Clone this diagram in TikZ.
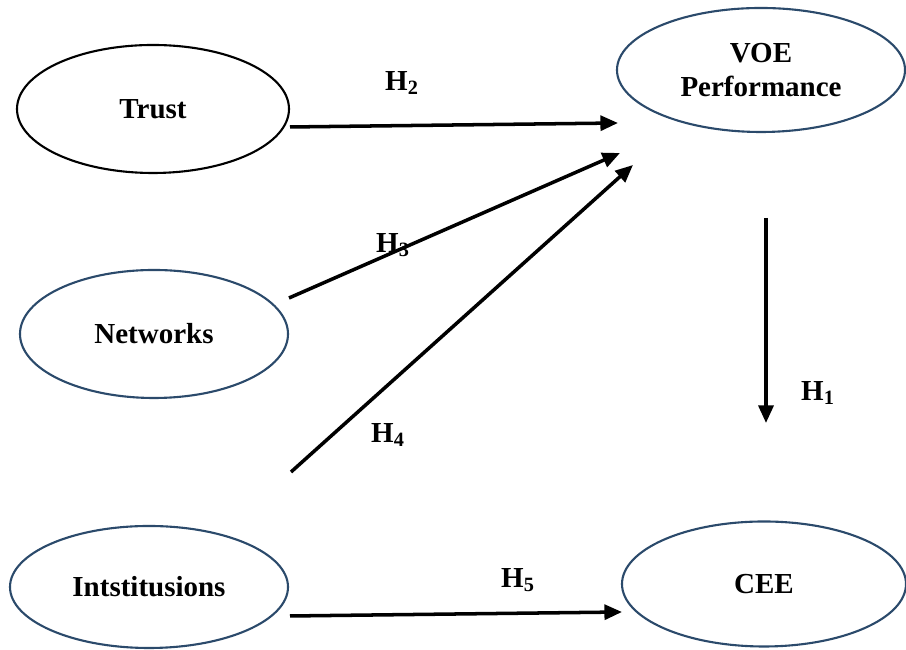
\documentclass[tikz,border=0pt]{standalone}
\usepackage{fontspec}
\setmainfont{Liberation Serif}
\usepackage{tikz}
\usetikzlibrary{positioning,calc,arrows.meta,shapes.geometric}
\usepackage{xcolor}
\definecolor{ellblue}{HTML}{2B4A6B}

\begin{document}
\begin{tikzpicture}[
    construct/.style={ellipse,draw=ellblue,line width=1.2pt,inner sep=0pt,align=center,font=\fontsize{16.5}{19.5}\selectfont\bfseries},
    hyp/.style={-{Triangle[length=10pt,width=8.5pt]},line width=2pt},
    hlabel/.style={font=\fontsize{16.5}{19.5}\selectfont\bfseries,inner sep=0pt}]
\useasboundingbox (0,0) rectangle (18.12,13);
\node[construct,draw=black,minimum width=5.44cm,minimum height=2.56cm] (trust) at (3.06,10.82) {Trust};
\node[construct,minimum width=5.76cm,minimum height=2.48cm] (voe) at (15.22,11.6) {VOE\\Performance};
\node[construct,minimum width=5.36cm,minimum height=2.56cm] (networks) at (3.08,6.32) {Networks};
\node[construct,minimum width=5.56cm,minimum height=2.44cm] (inst) at (2.98,1.26) {Intstitusions};
\node[construct,minimum width=5.68cm,minimum height=2.5cm] (cee) at (15.28,1.32) {CEE};
\coordinate (t1) at (5.80,10.46);
\coordinate (t2) at (12.36,10.54);
\coordinate (n1) at (5.78,7.04);
\coordinate (n2) at (12.40,9.94);
\coordinate (i1) at (5.82,3.56);
\coordinate (i2) at (12.66,9.70);
\coordinate (v1) at (15.32,8.64);
\coordinate (v2) at (15.32,4.54);
\coordinate (c1) at (5.80,0.68);
\coordinate (c2) at (12.44,0.76);
\draw[hyp] (t1) -- (t2);
\draw[hyp] (n1) -- (n2);
\draw[hyp] (i1) -- (i2);
\draw[hyp] (v1) -- (v2);
\draw[hyp] (c1) -- (c2);
\node[hlabel] (h2) at (8.04,11.34) {H\textsubscript{2}};
\node[hlabel] (h3) at (7.86,8.1) {H\textsubscript{3}};
\node[hlabel] (h4) at (7.76,4.3) {H\textsubscript{4}};
\node[hlabel] (h1) at (16.36,5.14) {H\textsubscript{1}};
\node[hlabel] (h5) at (10.36,1.4) {H\textsubscript{5}};
\end{tikzpicture}
\end{document}
